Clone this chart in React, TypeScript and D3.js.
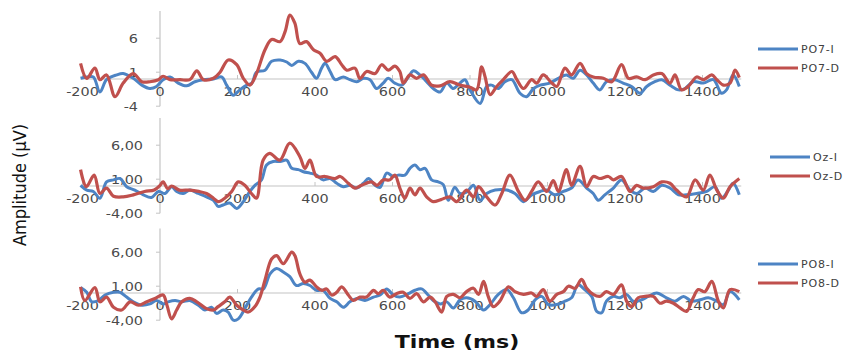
import React, { useEffect, useRef } from "react";
import * as d3 from "d3";

// time (ms) / amplitude (µV) pairs
const po7I: [number, number][] = [
  [-205, 0.1], [-189, 0.3], [-172, 0.3], [-155, -1.9], [-138, -0.1], [-112, 0.6], [-95, 0.8], [-69, 0.1],
  [-47, -0.9], [-26, -1.4], [-9, -1.1], [8, -0.1], [26, 0.3], [47, -0.6], [69, -1.0], [90, -0.4],
  [112, -0.1], [138, 0], [159, 0.3], [172, -0.9], [189, -2.4], [206, -1.6], [224, -0.9], [237, -0.6],
  [249, 1.0], [271, 1.3], [288, 2.6], [310, 2.8], [327, 2.5], [340, 2.0], [357, 2.6], [374, 2.3],
  [391, 1.0], [404, 0.1], [417, 1.6], [426, 2.3], [439, 1.1], [452, -0.1], [473, 0.3], [490, -0.1],
  [508, -0.4], [525, 0.1], [542, -0.1], [559, -1.4], [576, -0.6], [589, 0.1], [606, -0.6], [624, -0.9],
  [641, 0.3], [654, 1.2], [671, 0.6], [688, -0.4], [705, -1.4], [723, -1.9], [740, -0.6], [757, -1.4],
  [774, -0.6], [787, -0.1], [800, -1.6], [826, -3.6], [843, -1.1], [856, -0.9], [873, -1.4], [890, -0.4],
  [908, -0.1], [929, -2.1], [946, -2.6], [964, -1.4], [981, -0.9], [1006, -0.6], [1028, 0.1], [1049, 0.6],
  [1066, 0.1], [1084, 1.3], [1101, 0.6], [1118, -0.6], [1135, -1.6], [1152, -0.4], [1174, -0.1], [1195, -0.6],
  [1217, -1.1], [1239, -2.1], [1256, -1.1], [1277, -0.4], [1295, -0.1], [1316, -0.9], [1338, -1.6], [1355, -1.4],
  [1376, -0.4], [1402, -0.6], [1428, -0.1], [1449, -2.1], [1462, -1.6], [1479, 0.6], [1495, -1.1],
];
const po7D: [number, number][] = [
  [-205, 2.3], [-189, 0.1], [-168, 1.6], [-155, -0.1], [-138, 0.6], [-116, -2.6], [-95, -0.6], [-69, 0.8],
  [-47, -0.4], [-26, -0.4], [-4, -0.1], [8, 0.4], [26, -0.1], [52, -0.1], [77, -0.1], [95, 1.2],
  [112, -0.1], [138, 0.1], [155, 1.0], [176, 2.8], [198, 2.1], [215, 0.1], [232, -0.9], [249, 0.8],
  [271, 4.3], [288, 5.8], [310, 5.5], [323, 7.0], [335, 9.4], [348, 8.2], [361, 5.2], [378, 5.5],
  [396, 4.3], [413, 3.8], [430, 2.6], [452, 3.3], [469, 2.1], [482, 1.3], [503, 1.6], [516, 0.1],
  [533, 1.1], [555, 0.8], [572, 2.1], [589, 1.3], [606, 1.9], [619, 1.1], [628, -0.6], [645, 0.6],
  [662, 0.1], [680, 0.6], [701, -0.9], [723, -1.0], [748, -0.4], [774, -0.9], [800, -1.2], [817, -1.6],
  [830, 1.8], [839, 0.3], [852, -2.3], [869, -1.1], [886, -0.1], [908, 1.1], [921, -0.1], [938, -1.4],
  [959, -0.1], [972, -0.6], [989, 0.6], [1011, -0.6], [1024, -1.1], [1045, 1.6], [1062, 0.6], [1084, 2.3],
  [1101, 0.8], [1118, 0.3], [1144, 0.1], [1166, -0.4], [1191, 2.1], [1209, 0.1], [1230, 0.3], [1252, -0.1],
  [1273, 0.6], [1295, 0.8], [1316, -0.6], [1329, 0.6], [1346, -1.6], [1363, -1.1], [1385, 0.3], [1402, -0.1],
  [1424, 0.6], [1437, -0.1], [1454, -0.9], [1471, -0.6], [1484, 1.3], [1495, 0.2],
];
const ozI: [number, number][] = [
  [-205, 0.1], [-189, -0.6], [-172, -0.8], [-155, -1.8], [-138, 0.6], [-120, 0.9], [-103, 1.1], [-86, -0.1],
  [-65, -0.6], [-43, -1.3], [-22, -1.7], [-4, -0.8], [13, -1.1], [30, -0.1], [43, -0.8], [60, -1.1],
  [77, -0.6], [99, -1.1], [120, -1.6], [138, -2.1], [150, -3.0], [163, -2.8], [180, -2.5], [198, -3.3],
  [215, -2.3], [232, -0.8], [245, 0.1], [262, 0.9], [275, 3.1], [292, 3.6], [310, 3.6], [327, 3.8],
  [340, 2.6], [357, 2.4], [370, 2.1], [387, 1.9], [404, 1.6], [421, 0.9], [439, 1.1], [456, 0.4],
  [473, -0.1], [490, 0.1], [508, -0.3], [525, 0.4], [538, 1.1], [555, 0.1], [568, -0.2], [585, 1.9],
  [602, 1.4], [615, 1.6], [632, 1.6], [645, 2.6], [658, 3.1], [671, 2.4], [684, 2.6], [701, 0.9],
  [718, 0.6], [731, 0.2], [744, -2.1], [761, -0.2], [774, -1.1], [791, -0.9], [809, 0.1], [826, -2.1],
  [843, -1.1], [865, -0.6], [895, -0.6], [916, -1.1], [938, -2.3], [959, -1.3], [981, -0.8], [998, -0.6],
  [1019, -1.3], [1041, -0.8], [1062, -0.3], [1079, 0.9], [1101, -0.3], [1118, -1.1], [1131, -2.1], [1148, -1.3],
  [1170, -0.3], [1191, 0.9], [1213, -0.6], [1230, -1.1], [1252, -0.3], [1273, -0.8], [1295, 0.1], [1316, -0.3],
  [1338, -1.3], [1359, -1.3], [1385, -1.1], [1411, -0.8], [1432, -0.1], [1449, -1.8], [1467, -0.6], [1479, 0.4],
  [1495, -1.3],
];
const ozD: [number, number][] = [
  [-205, 2.4], [-190, -0.1], [-170, 1.6], [-155, -1.1], [-138, -0.3], [-120, -1.5], [-95, -1.6], [-69, -1.3],
  [-40, -0.8], [-15, -0.6], [0, 0.1], [8, 0.6], [20, -0.4], [30, 0], [50, -0.6], [77, -0.6],
  [100, -0.8], [120, -1.1], [138, -1.8], [150, -2.3], [167, -1.8], [185, -0.8], [202, 0.6], [219, 0.1],
  [236, -1.1], [249, -1.8], [266, 3.8], [283, 4.8], [309, 3.8], [335, 6.3], [361, 4.3], [374, 2.6],
  [387, 3.8], [404, 1.4], [426, 1.4], [452, 1.1], [465, 1.4], [486, 0.4], [503, -0.3], [520, 0.1],
  [546, 0.6], [560, 0.1], [576, 0.9], [593, 0.9], [606, 1.6], [619, -0.3], [632, -1.8], [645, -0.3],
  [658, -1.3], [671, -0.3], [688, -1.6], [705, -2.3], [725, -2.0], [748, -1.6], [766, -2.3], [791, -0.6],
  [809, -1.6], [822, -0.1], [843, -1.6], [865, -2.8], [882, -1.1], [903, 1.6], [925, -0.8], [942, -2.1],
  [959, -0.8], [976, 0.6], [998, -0.8], [1015, 0.8], [1028, -0.8], [1049, 2.4], [1062, 0.1], [1084, 2.9],
  [1101, -0.1], [1118, 1.4], [1135, 1.1], [1157, 1.4], [1170, 0.9], [1191, 1.4], [1213, -0.8], [1230, 0.1],
  [1247, -0.3], [1273, -0.1], [1295, 0.6], [1316, 0.4], [1333, -0.6], [1359, -1.6], [1381, 0.9], [1402, -0.6],
  [1419, 1.6], [1437, -0.6], [1454, -1.8], [1471, -0.1], [1495, 1.1],
];
const po8I: [number, number][] = [
  [-205, 0.8], [-189, 0.1], [-176, -1.3], [-159, -1.1], [-142, -0.3], [-120, 0.1], [-103, 0.1], [-86, -0.6],
  [-69, -1.3], [-47, -1.8], [-26, -1.6], [-9, -1.1], [8, -1.6], [21, -1.3], [39, -1.1], [56, -1.3],
  [77, -1.1], [99, -1.8], [116, -2.5], [133, -2.1], [146, -3.0], [163, -2.5], [176, -2.8], [189, -4.0],
  [202, -3.8], [219, -2.3], [236, -0.6], [254, 0.6], [267, 0.6], [284, 2.8], [301, 3.6], [318, 3.1],
  [335, 2.4], [352, 1.1], [370, 1.4], [387, 1.1], [404, 0.4], [421, 0.4], [439, -0.8], [456, -1.3],
  [473, -2.1], [490, -1.3], [508, -0.8], [529, -1.1], [551, -0.6], [568, -0.3], [585, 0.6], [602, -0.3],
  [619, -0.6], [641, -0.1], [658, 0.4], [675, 0.6], [692, -0.3], [705, -1.1], [723, -1.6], [740, -1.3],
  [757, -2.2], [774, -1.0], [791, -0.7], [813, -1.2], [835, -2.5], [852, -1.7], [873, -0.2], [895, 0.5],
  [912, -0.7], [933, -2.9], [950, -2.5], [968, -1.0], [985, -0.5], [1002, -1.7], [1024, -1.7], [1045, -1.2],
  [1062, -0.7], [1079, 1.2], [1096, 0.5], [1114, -0.5], [1127, -2.7], [1140, -2.9], [1152, -1.2], [1170, -0.5],
  [1187, -0.7], [1204, -0.2], [1221, -1.2], [1243, -1.0], [1260, -0.5], [1282, 0], [1307, -0.7], [1329, -1.2],
  [1351, -0.5], [1372, -1.2], [1394, -1.0], [1415, -0.7], [1437, -1.2], [1454, -1.7], [1471, 0.2], [1495, -1.0],
];
const po8D: [number, number][] = [
  [-205, 0.9], [-194, -1.1], [-168, 0.8], [-155, -1.3], [-138, -0.6], [-120, -2.1], [-99, -2.5], [-77, -1.3],
  [-56, -1.8], [-34, -1.3], [-13, -0.8], [8, -0.3], [18, -1.8], [30, -3.8], [43, -2.5], [56, -1.3],
  [77, -0.8], [95, -1.3], [120, -2.3], [138, -2.5], [150, -2.0], [167, -1.3], [180, -0.6], [198, -1.8],
  [215, -2.5], [228, -2.8], [245, -2.0], [258, -0.6], [271, 1.9], [288, 5.0], [301, 5.5], [318, 4.3],
  [340, 6.0], [348, 5.5], [361, 2.8], [374, 1.6], [387, 1.9], [404, 0.9], [417, 0.4], [430, 0.6],
  [443, -0.3], [456, 0.1], [469, 0.9], [486, -0.3], [499, -1.1], [516, -0.6], [533, -0.6], [551, 0.4],
  [563, -0.1], [576, 0.4], [593, -0.6], [610, -0.1], [628, 0.1], [645, -0.8], [662, -0.1], [680, -1.3],
  [697, -0.6], [710, -1.3], [727, -2.8], [740, -0.5], [757, -0.2], [774, -0.7], [791, 0.2], [809, 0.7],
  [822, -0.2], [835, 1.7], [847, -0.5], [860, -2.0], [877, -1.2], [899, 0.9], [916, 0.2], [938, -0.2],
  [959, 0], [972, -0.5], [989, 0.5], [1006, -1.2], [1024, -0.2], [1041, 0.2], [1054, 1.0], [1071, 0.7],
  [1088, 2.0], [1101, 0.7], [1118, -0.2], [1135, -0.5], [1152, 0.2], [1170, -0.2], [1191, 1.2], [1204, -1.2],
  [1217, -2.0], [1234, -0.7], [1252, -0.5], [1273, -0.5], [1290, -1.5], [1307, -1.2], [1325, -1.5], [1342, -2.2],
  [1359, -2.7], [1376, -0.7], [1389, 0.5], [1406, 0.2], [1424, 1.7], [1441, -1.2], [1454, -2.2], [1471, 0.5],
  [1495, 0.2],
];

const xTickValues = [-200, 0, 200, 400, 600, 800, 1000, 1200, 1400];
const yTickValues = [-4, 1, 6];
const topTickLabels = ["-4", "1", "6"];
const lowerTickLabels = ["-4,00", "1,00", "6,00"];

const BLUE = "#4d84c4";
const RED = "#c0504d";

const panels = [
  { zeroY: 79, yMax: 10, labels: topTickLabels, labelX: 138, legendX: 758, legendY: [49, 68], blue: po7I, red: po7D, names: ["PO7-I", "PO7-D"] },
  { zeroY: 186, yMax: 10, labels: lowerTickLabels, labelX: 143, legendX: 770, legendY: [157, 176], blue: ozI, red: ozD, names: ["Oz-I", "Oz-D"] },
  { zeroY: 293, yMax: 9.5, labels: lowerTickLabels, labelX: 143, legendX: 758, legendY: [264, 283], blue: po8I, red: po8D, names: ["PO8-I", "PO8-D"] },
];

export default function App() {
  const svgRef = useRef<SVGSVGElement>(null);

  useEffect(() => {
    const svg = d3.select(svgRef.current);
    svg.selectAll("*").remove();

    const x = d3.scaleLinear().domain([-200, 1500]).range([82.5, 741.25]);
    const tickFont = "'DejaVu Sans', Verdana, sans-serif";

    panels.forEach((p) => {
      const y = d3.scaleLinear().domain([0, 1]).range([p.zeroY, p.zeroY - 6.8]);
      const g = svg.append("g");

      // vertical axis at 0 ms
      g.append("line")
        .attr("x1", x(0)).attr("x2", x(0))
        .attr("y1", y(-4)).attr("y2", y(p.yMax))
        .attr("stroke", "#c4c4c4").attr("stroke-width", 1.2);

      yTickValues.forEach((v, i) => {
        g.append("line")
          .attr("x1", x(0) - 4).attr("x2", x(0))
          .attr("y1", y(v)).attr("y2", y(v))
          .attr("stroke", "#c4c4c4");
        g.append("text")
          .attr("transform", `translate(${p.labelX},${y(v) + 4.5}) scale(1.2,1)`)
          .attr("text-anchor", "end")
          .attr("font-family", tickFont)
          .attr("font-size", 12)
          .attr("fill", "#4a4a4a")
          .text(p.labels[i]);
      });

      // horizontal axis at 0 µV
      g.append("line")
        .attr("x1", x(-205)).attr("x2", x(1500))
        .attr("y1", y(0)).attr("y2", y(0))
        .attr("stroke", "#c4c4c4").attr("stroke-width", 1.2);

      xTickValues.forEach((t) => {
        g.append("line")
          .attr("x1", x(t)).attr("x2", x(t))
          .attr("y1", y(0)).attr("y2", y(0) - 4)
          .attr("stroke", "#c4c4c4");
        g.append("text")
          .attr("transform", `translate(${x(t)},${y(0) + 17}) scale(1.2,1)`)
          .attr("text-anchor", "middle")
          .attr("font-family", tickFont)
          .attr("font-size", 12)
          .attr("fill", "#4a4a4a")
          .text(t);
      });

      const line = d3
        .line<[number, number]>()
        .x((d) => x(d[0]))
        .y((d) => y(d[1]))
        .curve(d3.curveCatmullRom.alpha(0.5));

      g.append("path")
        .datum(p.blue)
        .attr("fill", "none")
        .attr("stroke", BLUE)
        .attr("stroke-width", 3)
        .attr("stroke-linejoin", "round")
        .attr("d", line);

      g.append("path")
        .datum(p.red)
        .attr("fill", "none")
        .attr("stroke", RED)
        .attr("stroke-width", 3.2)
        .attr("stroke-linejoin", "round")
        .attr("d", line);

      // legend
      [BLUE, RED].forEach((c, i) => {
        g.append("line")
          .attr("x1", p.legendX).attr("x2", p.legendX + 40)
          .attr("y1", p.legendY[i]).attr("y2", p.legendY[i])
          .attr("stroke", c).attr("stroke-width", 3);
        g.append("text")
          .attr("x", p.legendX + 43)
          .attr("y", p.legendY[i] + 4)
          .attr("font-family", tickFont)
          .attr("font-size", 11)
          .attr("letter-spacing", 0.8)
          .attr("fill", "#404040")
          .text(p.names[i]);
      });
    });

    svg.append("text")
      .attr("transform", "translate(26,185) rotate(-90)")
      .attr("text-anchor", "middle")
      .attr("font-family", "'Liberation Sans Narrow', 'DejaVu Sans Condensed', sans-serif")
      .attr("font-size", 18)
      .attr("fill", "#111")
      .text("Amplitude (µV)");

    svg.append("text")
      .attr("transform", "translate(457,348) scale(1.3,1)")
      .attr("text-anchor", "middle")
      .attr("font-family", "'DejaVu Sans', Verdana, sans-serif")
      .attr("font-weight", "bold")
      .attr("font-size", 17)
      .attr("fill", "#111")
      .text("Time (ms)");
  }, []);

  return (
    <div>
      <svg
        ref={svgRef}
        width={851}
        height={354}
        style={{ position: "absolute", left: 0, top: 0, background: "#fff" }}
      ></svg>
    </div>
  );
}
